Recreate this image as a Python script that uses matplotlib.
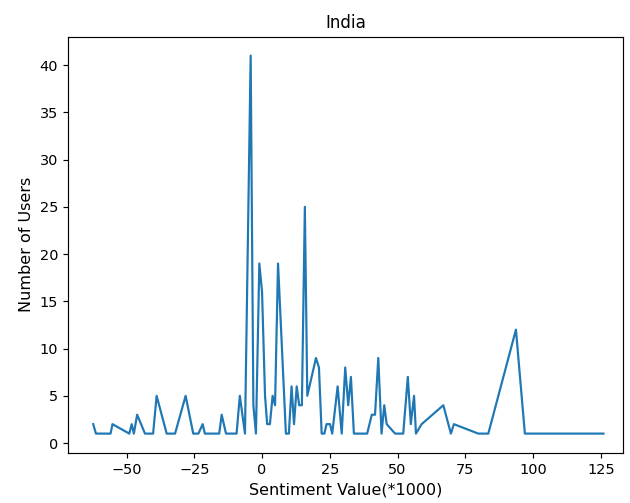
import matplotlib
matplotlib.use("Agg")
import matplotlib.pyplot as plt

# Sentiment value (*1000) and number of users
sentiment = [-62.3, -61.3, -55.9, -55.2, -49.0, -48.1, -47.3, -46.1, -43.2, -40.2,
             -38.9, -35.2, -32.1, -28.2, -25.4, -23.5, -21.9, -21.1, -15.8, -14.9,
             -13.3, -9.4, -8.2, -6.3, -4.2, -3.2, -2.25, -1.0, 0.0, 1.1,
             1.9, 2.9, 3.9, 4.8, 5.9, 8.8, 9.9, 10.9, 11.8, 12.8,
             13.7, 14.7, 15.8, 16.7, 19.9, 21.0, 22.0, 23.0, 23.8, 25.1,
             25.9, 27.9, 29.4, 30.7, 31.8, 32.8, 33.9, 38.8, 40.5, 41.7,
             42.9, 44.1, 45.1, 46.0, 49.1, 52.1, 53.8, 54.9, 56.1, 56.8,
             58.9, 66.9, 69.7, 70.8, 79.8, 83.5, 93.7, 97.0, 126.0]
users = [2, 1, 1, 2, 1, 2, 1, 3, 1, 1,
         5, 1, 1, 5, 1, 1, 2, 1, 1, 3,
         1, 1, 5, 1, 41, 4, 1, 19, 16, 5,
         2, 2, 5, 4, 19, 1, 1, 6, 2, 6,
         4, 4, 25, 5, 9, 8, 1, 1, 2, 2,
         1, 6, 1, 8, 4, 7, 1, 1, 3, 3,
         9, 1, 4, 2, 1, 1, 7, 2, 5, 1,
         2, 4, 1, 2, 1, 1, 12, 1, 1]

dpi = 104.8
fig = plt.figure(figsize=(630 / dpi, 503 / dpi), dpi=dpi)
ax = fig.add_axes([68.3 / 630, (503 - 452.5) / 503, (622.7 - 68.3) / 630, (452.5 - 36.7) / 503])
ax.plot(sentiment, users, color="#1f77b4", linewidth=1.5)

ax.set_xlim(-71.5, 133.1)
ax.set_title("India", fontsize=11.5)
ax.set_xlabel("Sentiment Value(*1000)", fontsize=11)
ax.set_ylabel("Number of Users", fontsize=11)

fig.savefig("out.png", dpi=dpi)
